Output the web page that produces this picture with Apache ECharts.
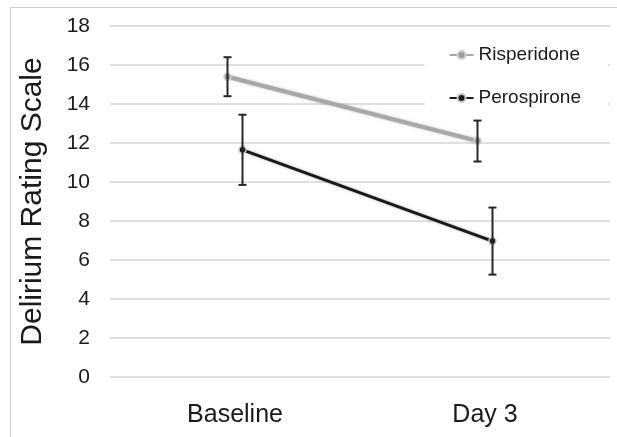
<!DOCTYPE html>
<html>
<head>
<meta charset="utf-8">
<script src="https://cdn.jsdelivr.net/npm/echarts@6/dist/echarts.min.js"></script>
<style>
  html, body { margin: 0; padding: 0; background: #fff; }
  #chart { width: 617px; height: 437px; }
</style>
</head>
<body>
<div id="chart"></div>
<script>
// data
const categories = ['Baseline', 'Day 3'];
const risperidone = [15.4, 12.1];
const risperidoneErr = [1.0, 1.05];
const perospirone = [11.65, 6.97];
const perospironeErr = [1.8, 1.72];
const yTicks = [0, 2, 4, 6, 8, 10, 12, 14, 16, 18];

// points sit a little left/right of the category centre
const shift = 0.03;
const catX = categories.map((c, i) => i + 0.5);

function points(vals, dx) {
    return vals.map((v, i) => [catX[i] + dx, v]);
}
function bars(vals, errs, dx) {
    return vals.map((v, i) => [catX[i] + dx, v - errs[i], v + errs[i]]);
}

// draw the error whiskers with small caps
function errorBar(params, api) {
    const x = api.value(0);
    const lo = api.coord([x, api.value(1)]);
    const hi = api.coord([x, api.value(2)]);
    const cap = 4;
    const style = { stroke: '#262626', lineWidth: 2 };
    return {
        type: 'group',
        children: [
            { type: 'line', shape: { x1: lo[0], y1: lo[1], x2: hi[0], y2: hi[1] }, style: style },
            { type: 'line', shape: { x1: lo[0] - cap, y1: lo[1], x2: lo[0] + cap, y2: lo[1] }, style: style },
            { type: 'line', shape: { x1: hi[0] - cap, y1: hi[1], x2: hi[0] + cap, y2: hi[1] }, style: style }
        ]
    };
}

const myChart = echarts.init(document.getElementById('chart'));
const option = {
    animation: false,
    backgroundColor: '#fff',
    textStyle: { fontFamily: 'Liberation Sans, Arial, sans-serif' },
    graphic: [{
        type: 'rect',
        shape: { x: 10.5, y: 7.5, width: 700, height: 500 },
        style: { fill: 'none', stroke: '#d0d0d0', lineWidth: 1 },
        z: -1
    }],
    grid: { left: 110, right: 7, top: 26, bottom: 60 },
    legend: {
        orient: 'vertical',
        right: 9,
        top: 35,
        padding: [10, 27, 10, 24],
        backgroundColor: '#fff',
        itemWidth: 24,
        itemHeight: 10,
        itemGap: 23,
        z: 10,
        textStyle: { fontSize: 19, color: '#1a1a1a', lineHeight: 20 },
        data: ['Risperidone', 'Perospirone']
    },
    xAxis: {
        type: 'value',
        min: 0,
        max: categories.length,
        interval: 0.5,
        axisLine: { show: false },
        axisTick: { show: false },
        splitLine: { show: false },
        axisLabel: {
            fontSize: 25,
            color: '#1a1a1a',
            margin: 26,
            formatter: function (v) {
                const i = catX.indexOf(v);
                return i >= 0 ? categories[i] : '';
            }
        }
    },
    yAxis: {
        type: 'value',
        min: yTicks[0],
        max: yTicks[yTicks.length - 1],
        interval: 2,
        name: 'Delirium Rating Scale',
        nameLocation: 'middle',
        nameGap: 62,
        nameTextStyle: { fontSize: 30, color: '#1a1a1a' },
        axisLine: { show: false },
        axisTick: { show: false },
        axisLabel: { fontSize: 21, color: '#1a1a1a', margin: 20 },
        splitLine: { lineStyle: { color: '#d6d6d6', width: 1.5 } }
    },
    series: [
        {
            name: 'Risperidone',
            type: 'line',
            data: points(risperidone, -shift),
            symbol: 'circle',
            symbolSize: 7,
            itemStyle: { color: '#9c9c9c', borderColor: '#d0d0d0', borderWidth: 1.5 },
            lineStyle: { color: '#a8a8a8', width: 4, shadowColor: 'rgba(0,0,0,0.25)', shadowBlur: 3 },
            z: 3
        },
        {
            name: 'Perospirone',
            type: 'line',
            data: points(perospirone, shift),
            symbol: 'circle',
            symbolSize: 7,
            itemStyle: { color: '#1a1a1a', borderColor: '#c8c8c8', borderWidth: 1.5 },
            lineStyle: { color: '#1a1a1a', width: 3, shadowColor: 'rgba(0,0,0,0.3)', shadowBlur: 3 },
            z: 3
        },
        {
            type: 'custom',
            renderItem: errorBar,
            data: bars(risperidone, risperidoneErr, -shift),
            encode: { x: 0, y: [1, 2] },
            z: 4
        },
        {
            type: 'custom',
            renderItem: errorBar,
            data: bars(perospirone, perospironeErr, shift),
            encode: { x: 0, y: [1, 2] },
            z: 4
        }
    ]
};
myChart.setOption(option);
</script>
</body>
</html>
